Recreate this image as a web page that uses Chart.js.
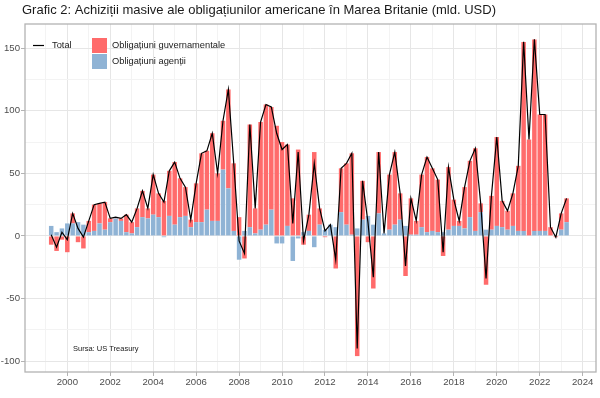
<!DOCTYPE html>
<html>
<head>
<meta charset="utf-8">
<script src="https://cdn.jsdelivr.net/npm/chart.js@4.4.1/dist/chart.umd.min.js"></script>
<style>
  html, body { margin: 0; padding: 0; background: #fff; }
  canvas { display: block; }
</style>
</head>
<body>
<canvas id="myChart" width="600" height="398" style="width:600px;height:398px"></canvas>
<script>
// trimestre, 1999 T2 - 2023 T2
const quarters = [
  '1999T2', '1999T3', '1999T4',
  '2000T1', '2000T2', '2000T3', '2000T4',
  '2001T1', '2001T2', '2001T3', '2001T4',
  '2002T1', '2002T2', '2002T3', '2002T4',
  '2003T1', '2003T2', '2003T3', '2003T4',
  '2004T1', '2004T2', '2004T3', '2004T4',
  '2005T1', '2005T2', '2005T3', '2005T4',
  '2006T1', '2006T2', '2006T3', '2006T4',
  '2007T1', '2007T2', '2007T3', '2007T4',
  '2008T1', '2008T2', '2008T3', '2008T4',
  '2009T1', '2009T2', '2009T3', '2009T4',
  '2010T1', '2010T2', '2010T3', '2010T4',
  '2011T1', '2011T2', '2011T3', '2011T4',
  '2012T1', '2012T2', '2012T3', '2012T4',
  '2013T1', '2013T2', '2013T3', '2013T4',
  '2014T1', '2014T2', '2014T3', '2014T4',
  '2015T1', '2015T2', '2015T3', '2015T4',
  '2016T1', '2016T2', '2016T3', '2016T4',
  '2017T1', '2017T2', '2017T3', '2017T4',
  '2018T1', '2018T2', '2018T3', '2018T4',
  '2019T1', '2019T2', '2019T3', '2019T4',
  '2020T1', '2020T2', '2020T3', '2020T4',
  '2021T1', '2021T2', '2021T3', '2021T4',
  '2022T1', '2022T2', '2022T3', '2022T4',
  '2023T1', '2023T2',
];

// mld. USD
const agencyBonds = [
  8, 3, 6, 10, 10, 11, 9, 3, 4, 10,
  5, 11, 14, 12, 3, 2, 7, 15, 14, 17,
  15, -1, 16, 9, 15, 16, 7, 11, 11, 21,
  12, 12, 53, 38, 4, -19, 4, 7, 2, 5,
  9, 21, -6, -6, 8, -20, -2, 3, 4, -9,
  9, 5, 9, 7, 19, 9, 1, 6, 13, 16,
  9, 18, 2, 5, 9, 13, 8, 1, 1, 7,
  3, 4, 3, 3, 5, 8, 8, 6, 15, 4,
  19, 5, 5, 8, 7, 5, 8, 4, 4, 0,
  4, 4, 4, 0, 0, 5, 11,
];

const govBonds = [
  -7, -12, -3, -13, 8, -5, -10, 9, 21, 16,
  22, 3, 1, 2, 14, 9, 15, 21, 8, 32,
  19, 28, 36, 50, 31, 23, 6, 31, 55, 47,
  70, 38, 39, 79, 54, 15, -18, 82, 20, 86,
  96, 82, 88, 75, 65, 30, 69, -7, 13, 67,
  13, -1, 0, -26, 35, 49, 65, -96, 31, -5,
  -42, 49, 0, 44, 58, 21, -32, 29, 11, 42,
  60, 50, 42, -16, 50, 21, 4, 33, 45, 66,
  7, -39, 27, 71, 21, 15, 26, 52, 151, 77,
  153, 93, 93, 7, -1, 13, 19,
];

const total = [
  1, -9, 3, -3, 18, 6, -1, 12, 25, 26,
  27, 14, 15, 14, 17, 11, 22, 36, 22, 49,
  34, 27, 52, 59, 46, 39, 13, 42, 66, 68,
  82, 50, 92, 117, 58, -4, -14, 89, 22, 91,
  105, 103, 82, 69, 73, 10, 67, -4, 17, 58,
  22, 4, 9, -19, 54, 58, 66, -90, 44, 11,
  -33, 67, 2, 49, 67, 34, -24, 30, 12, 49,
  63, 54, 45, -13, 55, 29, 12, 39, 60, 70,
  26, -34, 32, 79, 28, 20, 34, 56, 155, 77,
  157, 97, 97, 7, -1, 18, 30,
];

const xTickLabels = ['2000', '2002', '2004', '2006', '2008', '2010', '2012', '2014', '2016', '2018', '2020', '2022', '2024'];
const yTickLabels = [-100, -50, 0, 50, 100, 150];

const RED = '#ff6b6b';
const BLUE = '#8fb3d5';
const FONT = "'Liberation Sans', Arial, sans-serif";

// '2005T3' -> 2005.5
const toYear = (q) => Number(q.slice(0, 4)) + (Number(q.slice(5)) - 1) / 4;
const points = (values) => values.map((v, i) => ({ x: toYear(quarters[i]), y: v }));

const xMajor = xTickLabels.map(Number);
const xTicks = [];
xMajor.forEach((y) => { xTicks.push(y - 1, y); });
const yTicks = [];
yTickLabels.forEach((v) => { yTicks.push(v, v + 25); });

const isMajor = (list, ctx) => !!(ctx.tick && list.includes(ctx.tick.value));

const frame = {
  id: 'frame',
  beforeDraw(chart) {
    const c = chart.ctx;
    c.save();
    c.fillStyle = '#fff';
    c.fillRect(0, 0, chart.width, chart.height);
    c.fillStyle = '#1a1a1a';
    c.font = '13px ' + FONT;
    c.textBaseline = 'middle';
    c.fillText('Grafic 2: Achiziții masive ale obligațiunilor americane în Marea Britanie (mld. USD)', 22, 10);
    c.restore();
  },
  afterDatasetsDraw(chart) {
    const c = chart.ctx;
    const a = chart.chartArea;
    const ds = chart.data.datasets;
    c.save();
    c.strokeStyle = '#b3b3b3';
    c.lineWidth = 1.3;
    c.strokeRect(a.left, a.top, a.right - a.left, a.bottom - a.top);

    // legenda
    c.font = '9.3px ' + FONT;
    c.textBaseline = 'middle';
    c.fillStyle = '#1a1a1a';
    c.strokeStyle = ds[2].borderColor;
    c.lineWidth = 1.2;
    c.beginPath();
    c.moveTo(33, 45.5);
    c.lineTo(44, 45.5);
    c.stroke();
    c.fillText(ds[2].label, 52, 45.5);
    c.fillStyle = ds[1].backgroundColor;
    c.fillRect(92, 38, 15, 15);
    c.fillStyle = ds[0].backgroundColor;
    c.fillRect(92, 54, 15, 15);
    c.fillStyle = '#1a1a1a';
    c.fillText(ds[1].label, 112, 45.5);
    c.fillText(ds[0].label, 112, 61.5);

    c.font = '7.5px ' + FONT;
    c.fillText('Sursa: US Treasury', 73, 349);
    c.restore();
  }
};

const data = {
  datasets: [
    {
      type: 'bar',
      label: 'Obligațiuni agenții',
      data: points(agencyBonds),
      backgroundColor: BLUE,
      stack: 'bonds',
      order: 2,
    },
    {
      type: 'bar',
      label: 'Obligațiuni guvernamentale',
      data: points(govBonds),
      backgroundColor: RED,
      stack: 'bonds',
      order: 2,
    },
    {
      type: 'line',
      label: 'Total',
      data: points(total),
      borderColor: '#000',
      borderWidth: 1.2,
      pointRadius: 0,
      tension: 0,
      stack: 'total',
      order: 1,
    },
  ]
};

const config = {
  type: 'bar',
  data: data,
  options: {
    responsive: false,
    devicePixelRatio: 1,
    animation: false,
    events: [],
    categoryPercentage: 1,
    barPercentage: 0.84,
    layout: { padding: { top: 24, right: 4, bottom: 0, left: 0 } },
    plugins: {
      legend: { display: false },
      title: { display: false },
      tooltip: { enabled: false },
    },
    scales: {
      x: {
        type: 'linear',
        stacked: true,
        offset: false,
        min: 1998.03,
        max: 2024.62,
        afterBuildTicks: (axis) => { axis.ticks = xTicks.map((v) => ({ value: v })); },
        afterFit: (axis) => { axis.height = 26; },
        border: { display: false },
        grid: {
          offset: false,
          color: (ctx) => isMajor(xMajor, ctx) ? '#e6e6e6' : '#f3f3f3',
          tickColor: (ctx) => isMajor(xMajor, ctx) ? '#b3b3b3' : 'rgba(0,0,0,0)',
          tickLength: 4,
        },
        ticks: {
          autoSkip: false,
          maxRotation: 0,
          padding: 1,
          color: '#4d4d4d',
          font: { family: FONT, size: 9.6 },
          callback: (v) => xMajor.includes(v) ? String(v) : '',
        },
      },
      y: {
        stacked: true,
        min: -108.7,
        max: 169.3,
        afterBuildTicks: (axis) => { axis.ticks = yTicks.filter((v) => v < 169).map((v) => ({ value: v })); },
        afterFit: (axis) => { axis.width = 25; },
        border: { display: false },
        grid: {
          color: (ctx) => isMajor(yTickLabels, ctx) ? '#e6e6e6' : '#f3f3f3',
          tickColor: (ctx) => isMajor(yTickLabels, ctx) ? '#b3b3b3' : 'rgba(0,0,0,0)',
          tickLength: 4,
        },
        ticks: {
          autoSkip: false,
          padding: 1,
          color: '#4d4d4d',
          font: { family: FONT, size: 9.6 },
          callback: (v) => yTickLabels.includes(v) ? String(v) : '',
        },
      },
    },
  },
  plugins: [frame],
};

if (document.getElementById('myChart')) {
  const myChart = new Chart(
    document.getElementById('myChart').getContext('2d'),
    config
  );
}
</script>
</body>
</html>
